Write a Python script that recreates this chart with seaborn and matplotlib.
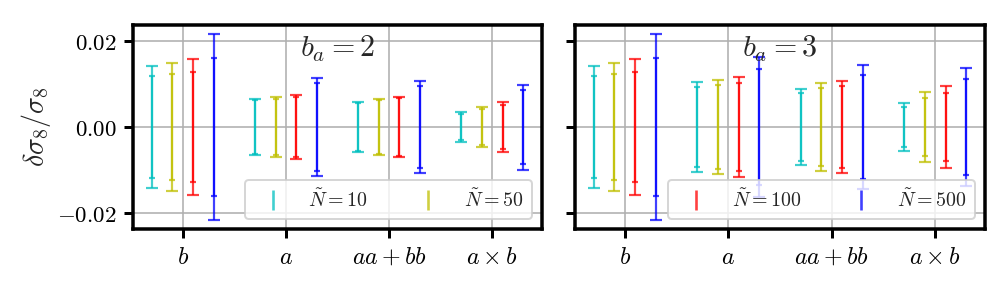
import numpy as np
import matplotlib
matplotlib.use("Agg")
import matplotlib.pyplot as plt
import seaborn as sns
from matplotlib.lines import Line2D
from matplotlib.ticker import FuncFormatter

# ---------------- data ----------------
categories = ['$b$', '$a$', '$aa+bb$', r'$a\times b$']
n_values = [10, 50, 100, 500]
colors = ['#00bfbf', '#bfbf00', '#ff0000', '#0000ff']
centre = [0.0, 0.0, 0.0, 0.0]

# panel b_a = 2 : half-widths per N (rows) for each category (cols)
outer_ba2 = [
    [0.0143, 0.0065, 0.0058, 0.0034],
    [0.0150, 0.0070, 0.0066, 0.0047],
    [0.0158, 0.0075, 0.0071, 0.0058],
    [0.0216, 0.0114, 0.0108, 0.0099],
]
inner_ba2 = [
    [0.0118, 0.0062, 0.0055, 0.0030],
    [0.0124, 0.0066, 0.0062, 0.0043],
    [0.0129, 0.0070, 0.0067, 0.0052],
    [0.0161, 0.0102, 0.0095, 0.0087],
]
# panel b_a = 3
outer_ba3 = [
    [0.0143, 0.0105, 0.0088, 0.0056],
    [0.0150, 0.0110, 0.0102, 0.0081],
    [0.0158, 0.0116, 0.0108, 0.0095],
    [0.0216, 0.0164, 0.0145, 0.0138],
]
inner_ba3 = [
    [0.0118, 0.0093, 0.0080, 0.0047],
    [0.0124, 0.0098, 0.0092, 0.0068],
    [0.0129, 0.0103, 0.0095, 0.0079],
    [0.0161, 0.0134, 0.0120, 0.0112],
]
panel_titles = [r'$b_a = 2$', r'$b_a = 3$']
yticks = [-0.02, 0.0, 0.02]

# ---------------- style ----------------
sns.set_theme(style='whitegrid', color_codes=False)
plt.rcParams.update({
    'mathtext.fontset': 'cm',
    'font.family': ['DejaVu Sans'],
    'axes.edgecolor': 'black',
    'axes.linewidth': 1.75,
    'axes.facecolor': 'white',
    'grid.color': '#b0b0b0',
    'grid.linewidth': 0.8,
    'xtick.bottom': True,
    'ytick.left': True,
    'xtick.major.size': 4.5,
    'ytick.major.size': 4.5,
    'xtick.major.width': 1.5,
    'ytick.major.width': 1.5,
    'xtick.color': 'black',
    'ytick.color': 'black',
    'xtick.labelsize': 12,
    'ytick.labelsize': 11.5,
    'xtick.direction': 'out',
    'ytick.direction': 'out',
})

fig = plt.figure(figsize=(7, 2), dpi=144)
ax1 = fig.add_axes([133 / 1008, 59 / 288, 409 / 1008, 204 / 288])
ax2 = fig.add_axes([575 / 1008, 59 / 288, 410 / 1008, 204 / 288], sharey=ax1)

offsets = [-0.3, -0.1, 0.1, 0.3]
x = np.arange(len(categories))

panels = [(ax1, outer_ba2, inner_ba2, panel_titles[0], [0, 1]),
          (ax2, outer_ba3, inner_ba3, panel_titles[1], [2, 3])]
legs = []
for ax, outer, inner, title, leg_idx in panels:
    ax.set_axisbelow(True)
    for i, c in enumerate(colors):
        ax.errorbar(x + offsets[i], centre, yerr=outer[i], fmt='none',
                    ecolor=c, elinewidth=1.1, capsize=2.8, capthick=1.1, alpha=0.75)
        ax.errorbar(x + offsets[i], centre, yerr=inner[i], fmt='none',
                    ecolor=c, elinewidth=1.1, capsize=1.6, capthick=1.1, alpha=0.75)
    ax.set_xticks(x)
    ax.set_xticklabels(categories)
    ax.tick_params(axis='x', labelsize=12)
    ax.set_yticks(yticks)
    ax.grid(True, which='major', axis='both')
    ax.text(0.5, 0.885, title, transform=ax.transAxes, ha='center',
            va='center', fontsize=15)
    handles = [Line2D([], [], linestyle='none', marker='|', markersize=10,
                      markeredgewidth=1.3, color=colors[k], alpha=0.75)
               for k in leg_idx]
    labels = [r'$\tilde{N} = %d$' % n_values[k] for k in leg_idx]
    legs.append(ax.legend(handles, labels, ncol=2, loc='lower right', fontsize=10,
                          frameon=True, framealpha=0.8, edgecolor='0.8', fancybox=True))

ax1.yaxis.set_major_formatter(FuncFormatter(lambda v, p: '$%.2f$' % v))
ax1.set_ylabel(r'$\delta\sigma_8/\sigma_8$', fontsize=14, labelpad=2)
plt.setp(ax2.get_yticklabels(), visible=False)

# layout pass before saving
fig.canvas.draw()
r = fig.canvas.get_renderer()
for ax in (ax1, ax2):
    for t in ax.get_xticklabels() + ax.get_yticklabels():
        t.get_window_extent(r)
for lg in legs:
    for t in lg.get_texts():
        t.get_window_extent(r)

fig.savefig('out.png', dpi=144)
